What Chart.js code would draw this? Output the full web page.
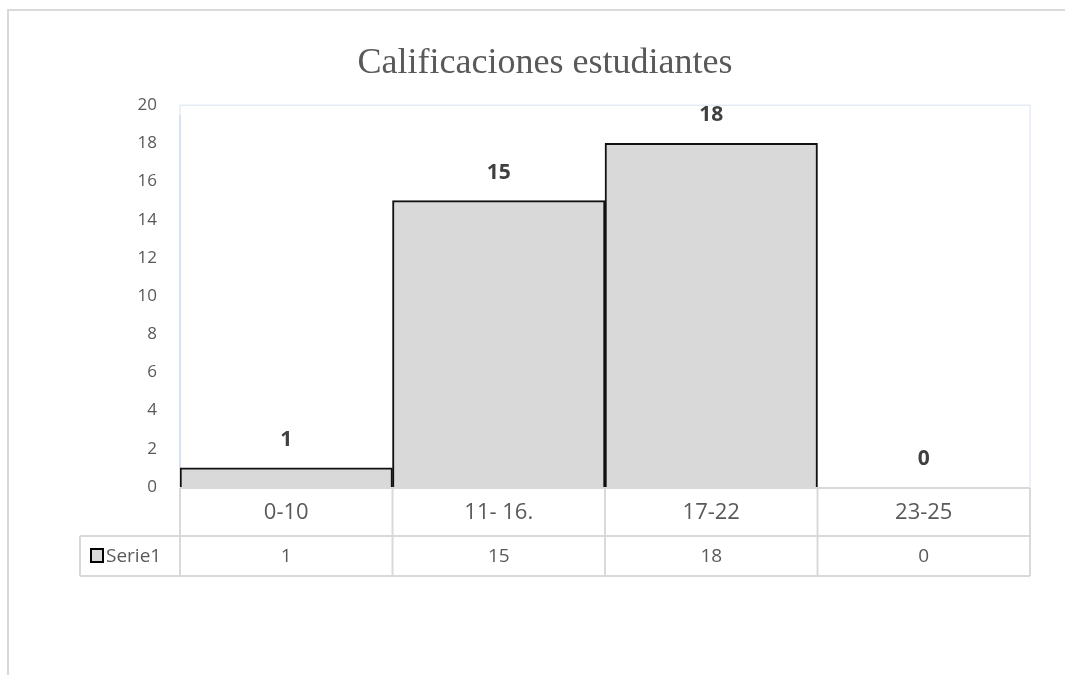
<!DOCTYPE html>
<html>
<head>
<meta charset="utf-8">
<script src="https://cdn.jsdelivr.net/npm/chart.js@4/dist/chart.umd.min.js"></script>
<style>
  html, body { margin: 0; padding: 0; background: #fff; }
  #wrap { width: 1065px; height: 675px; }
</style>
</head>
<body>
<div id="wrap"><canvas id="c" width="1065" height="675"></canvas></div>
<script>
// Grade ranges and number of students in each range
const categories = ['0-10', '11- 16.', '17-22', '23-25'];
const seriesName = 'Serie1';
const serieValues = [1, 15, 18, 0];
const titleText = 'Calificaciones estudiantes';
const yMin = 0, yMax = 20, yStep = 2;

const GRID = '#d9d9d9';
const TEXT = '#595959';
const SANS = '"Open Sans", "Noto Sans", Lato, sans-serif';

// Outer frame, plot-area outline, value labels and the data table under the axis
const decorations = {
  id: 'decorations',
  beforeDraw(chart) {
    const ctx = chart.ctx;
    ctx.save();
    ctx.strokeStyle = GRID;
    ctx.lineWidth = 2;
    ctx.beginPath();
    ctx.moveTo(8, 675);
    ctx.lineTo(8, 10);
    ctx.lineTo(1065, 10);
    ctx.stroke();
    const a = chart.chartArea;
    ctx.strokeStyle = '#e6ecf6';
    ctx.lineWidth = 1.5;
    ctx.beginPath();
    ctx.moveTo(a.left, a.bottom);
    ctx.lineTo(a.left, a.top);
    ctx.lineTo(a.right, a.top);
    ctx.lineTo(a.right, a.bottom);
    ctx.stroke();
    ctx.strokeStyle = '#cfdcf1';
    ctx.beginPath();
    ctx.moveTo(a.left, a.top + 10);
    ctx.lineTo(a.left, a.bottom);
    ctx.stroke();
    ctx.restore();
  },
  afterDatasetsDraw(chart) {
    const ctx = chart.ctx;
    const meta = chart.getDatasetMeta(0);
    ctx.save();
    ctx.fillStyle = '#404040';
    ctx.font = 'bold 21px ' + SANS;
    ctx.textAlign = 'center';
    ctx.textBaseline = 'middle';
    meta.data.forEach((bar, i) => {
      ctx.fillText(String(serieValues[i]), bar.x, bar.y - 28);
    });
    ctx.restore();
  },
  afterDraw(chart) {
    const ctx = chart.ctx;
    const x = chart.scales.x;
    const a = chart.chartArea;
    const half = (x.getPixelForValue(1) - x.getPixelForValue(0)) / 2;
    const row1Top = a.bottom + 1, row1Bot = a.bottom + 49, row2Bot = a.bottom + 89;
    const tableLeft = 80;
    ctx.save();
    ctx.strokeStyle = GRID;
    ctx.lineWidth = 2;
    ctx.beginPath();
    ctx.moveTo(a.left, row1Top); ctx.lineTo(a.right, row1Top);
    ctx.moveTo(tableLeft, row1Bot); ctx.lineTo(a.right, row1Bot);
    ctx.moveTo(tableLeft, row2Bot); ctx.lineTo(a.right, row2Bot);
    ctx.moveTo(tableLeft, row1Bot); ctx.lineTo(tableLeft, row2Bot);
    categories.forEach((c, i) => {
      const l = x.getPixelForValue(i) - half;
      ctx.moveTo(l, row1Top); ctx.lineTo(l, row2Bot);
    });
    ctx.moveTo(a.right, row1Top); ctx.lineTo(a.right, row2Bot);
    ctx.stroke();

    ctx.fillStyle = TEXT;
    ctx.textAlign = 'center';
    ctx.textBaseline = 'middle';
    ctx.font = '22px ' + SANS;
    categories.forEach((c, i) => {
      ctx.fillText(c, x.getPixelForValue(i), (row1Top + row1Bot) / 2 + 1);
    });
    ctx.font = '19px ' + SANS;
    serieValues.forEach((v, i) => {
      ctx.fillText(String(v), x.getPixelForValue(i), (row1Bot + row2Bot) / 2 + 1);
    });

    // legend key in the table
    const ky = (row1Bot + row2Bot) / 2;
    ctx.fillStyle = '#d9d9d9';
    ctx.fillRect(91, ky - 7, 12, 13);
    ctx.strokeStyle = '#000';
    ctx.lineWidth = 2;
    ctx.strokeRect(91, ky - 7, 12, 13);
    ctx.fillStyle = TEXT;
    ctx.textAlign = 'left';
    ctx.font = '19px ' + SANS;
    ctx.fillText(seriesName, 106, ky + 1);
    ctx.restore();
  }
};

new Chart(document.getElementById('c'), {
  type: 'bar',
  data: {
    labels: categories,
    datasets: [{
      label: seriesName,
      data: serieValues,
      backgroundColor: '#d9d9d9',
      borderColor: '#111111',
      borderWidth: 2,
      barPercentage: 1,
      categoryPercentage: 1
    }]
  },
  options: {
    responsive: false,
    animation: false,
    events: [],
    layout: { padding: { left: 60, right: 35, top: 10, bottom: 188 } },
    plugins: {
      legend: { display: false },
      tooltip: { enabled: false },
      title: {
        display: true,
        text: titleText,
        color: TEXT,
        font: { family: '"Liberation Serif", "DejaVu Serif", serif', size: 36, weight: 'normal', lineHeight: 1.2 },
        padding: { top: 32, bottom: 20 }
      }
    },
    scales: {
      x: { display: false, offset: true },
      y: {
        min: yMin, max: yMax,
        afterFit(scale) { scale.width = 120; },
        grid: { display: false, drawTicks: false },
        border: { display: false },
        ticks: {
          stepSize: yStep,
          padding: 23,
          color: TEXT,
          font: { family: SANS, size: 17 }
        }
      }
    }
  },
  plugins: [decorations]
});
</script>
</body>
</html>
